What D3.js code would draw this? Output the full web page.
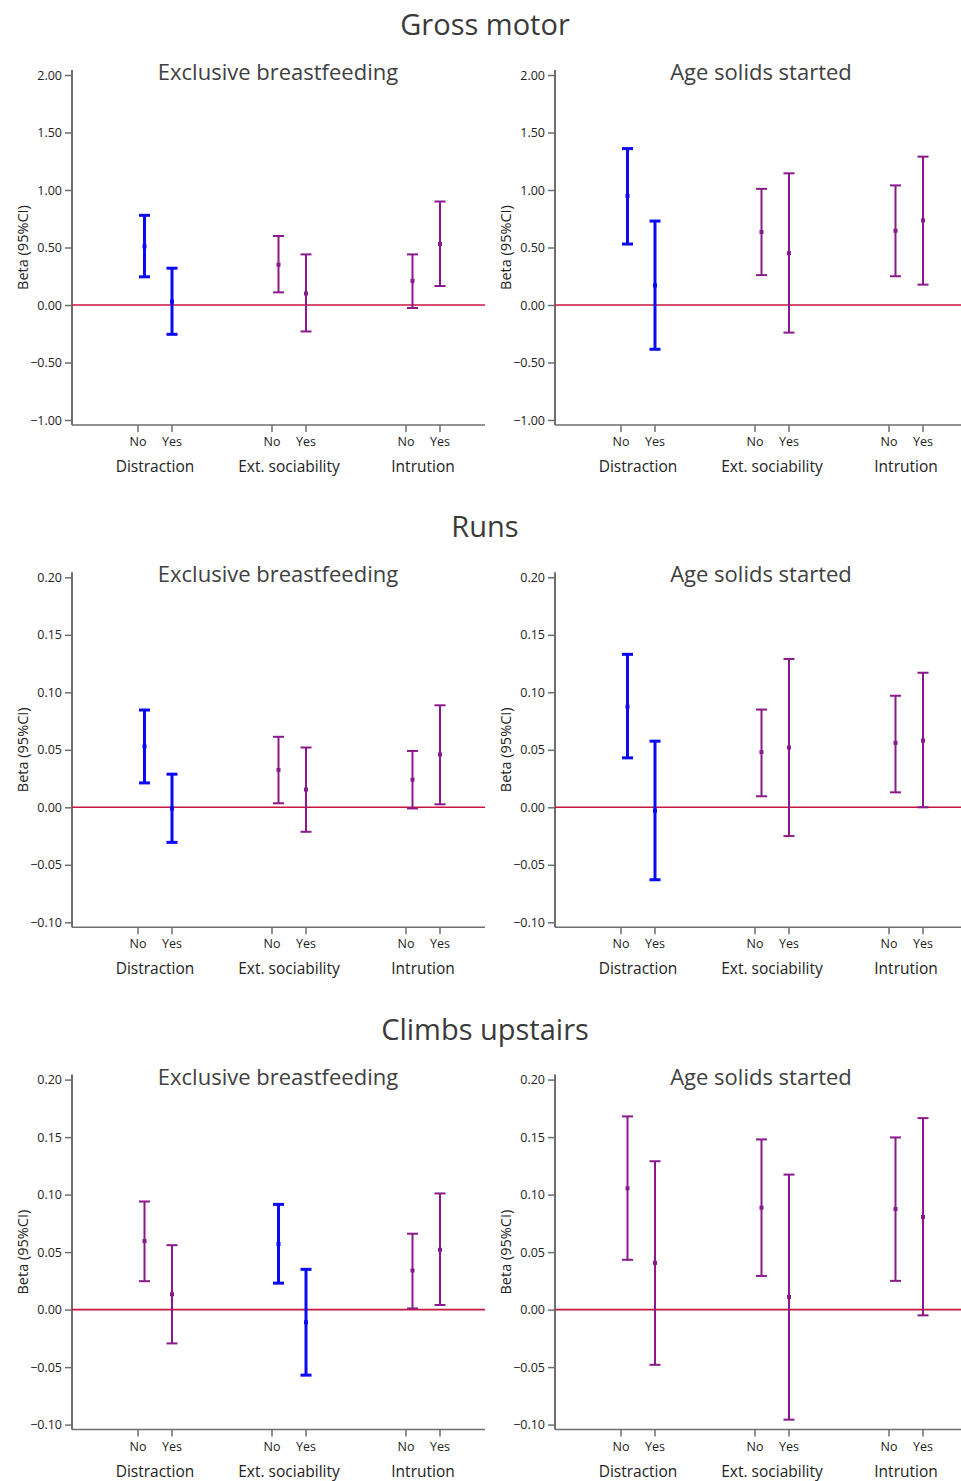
<!DOCTYPE html>
<html><head><meta charset="utf-8">
<script src="https://cdn.jsdelivr.net/npm/d3@7"></script>
<style>
html,body{margin:0;padding:0;background:#fff;}
svg{display:block;font-family:"Open Sans",sans-serif;}
</style></head>
<body><svg id="c" width="961" height="1481"></svg>
<script>
// ---- data ----
const outcomes = ["Gross motor", "Runs", "Climbs upstairs"];
const exposures = ["Exclusive breastfeeding", "Age solids started"];
const moderators = ["Distraction", "Ext. sociability", "Intrution"];
const levels = ["No", "Yes"];
const yTicksGross = [-1.00, -0.50, 0.00, 0.50, 1.00, 1.50, 2.00];
const yTicksSmall = [-0.10, -0.05, 0.00, 0.05, 0.10, 0.15, 0.20];
// order of points: Distraction No/Yes, Ext. sociability No/Yes, Intrution No/Yes
const grossEbfMean  = [0.51, 0.03, 0.35, 0.10, 0.21, 0.53];
const grossEbfLow   = [0.245, -0.255, 0.11, -0.23, -0.026, 0.165];
const grossEbfHigh  = [0.78, 0.32, 0.60, 0.44, 0.44, 0.90];
const grossEbfSig   = [true, true, false, false, false, false];
const grossSolMean  = [0.95, 0.17, 0.635, 0.45, 0.646, 0.736];
const grossSolLow   = [0.53, -0.385, 0.26, -0.24, 0.25, 0.177];
const grossSolHigh  = [1.36, 0.73, 1.01, 1.145, 1.04, 1.29];
const grossSolSig   = [true, true, false, false, false, false];
const runsEbfMean   = [0.053, -0.001, 0.0325, 0.0154, 0.024, 0.046];
const runsEbfLow    = [0.0212, -0.0305, 0.0035, -0.0213, -0.001, 0.0026];
const runsEbfHigh   = [0.0846, 0.0288, 0.0613, 0.052, 0.049, 0.0887];
const runsEbfSig    = [true, true, false, false, false, false];
const runsSolMean   = [0.0875, -0.003, 0.048, 0.052, 0.056, 0.058];
const runsSolLow    = [0.043, -0.063, 0.0096, -0.025, 0.013, 0.000];
const runsSolHigh   = [0.133, 0.0575, 0.085, 0.129, 0.097, 0.117];
const runsSolSig    = [true, true, false, false, false, false];
const climbEbfMean  = [0.0596, 0.0133, 0.057, -0.011, 0.034, 0.052];
const climbEbfLow   = [0.0247, -0.0294, 0.023, -0.057, 0.001, 0.004];
const climbEbfHigh  = [0.094, 0.056, 0.0915, 0.035, 0.066, 0.101];
const climbEbfSig   = [false, false, true, true, false, false];
const climbSolMean  = [0.1055, 0.0406, 0.0886, 0.011, 0.0875, 0.0806];
const climbSolLow   = [0.0433, -0.048, 0.0293, -0.0957, 0.025, -0.005];
const climbSolHigh  = [0.168, 0.129, 0.148, 0.1174, 0.1497, 0.1665];
const climbSolSig   = [false, false, false, false, false, false];

const panels = [
  [{m:grossEbfMean,l:grossEbfLow,h:grossEbfHigh,s:grossEbfSig},{m:grossSolMean,l:grossSolLow,h:grossSolHigh,s:grossSolSig}],
  [{m:runsEbfMean,l:runsEbfLow,h:runsEbfHigh,s:runsEbfSig},{m:runsSolMean,l:runsSolLow,h:runsSolHigh,s:runsSolSig}],
  [{m:climbEbfMean,l:climbEbfLow,h:climbEbfHigh,s:climbEbfSig},{m:climbSolMean,l:climbSolLow,h:climbSolHigh,s:climbSolSig}]
];
const rowTicks = [yTicksGross, yTicksSmall, yTicksSmall];

// ---- style / layout ----
const BLUE = "#0a0af5", PURPLE = "#8a1a8c", RED = "#c8163f", AXIS = "#6e6e6e", TXT = "#222";
const rowH = 502.3;
const colX = [72, 555];
const colRight = [485, 961];
const noShift = 6.5;

const svg = d3.select("#c");

outcomes.forEach((oc, r) => {
  const top = 75 + r * rowH;
  const bottom = top + 345;
  svg.append("text").attr("x", 485).attr("y", 35 + r * rowH)
    .attr("text-anchor", "middle").attr("font-size", 29).attr("fill", "#3a3a3a").text(oc);
  const ticks = rowTicks[r];
  const y = d3.scaleLinear().domain([ticks[0], ticks[ticks.length - 1]]).range([bottom, top]);

  exposures.forEach((ex, c) => {
    const x0 = colX[c];
    const g = svg.append("g");
    const d = panels[r][c];
    const xGroup = d3.scaleBand().domain(moderators).range([x0 + 16, x0 + 16 + 3 * 134]);
    const xLevel = d3.scalePoint().domain(levels).range([-17, 17]);
    const xPos = (mod, lev) => xGroup(mod) + xGroup.bandwidth() / 2 + xLevel(lev);

    // panel title
    g.append("text").attr("x", x0 + 206).attr("y", top + 5)
      .attr("text-anchor", "middle").attr("font-size", 22).attr("fill", "#404040").text(ex);

    // y axis
    const yAx = g.append("g").attr("transform", `translate(${x0},0)`)
      .call(d3.axisLeft(y).tickValues(ticks).tickSize(7).tickPadding(3)
        .tickFormat(v => d3.format(".2f")(v).replace("-", "\u2212")));
    yAx.attr("font-size", null).attr("font-family", null);
    yAx.select(".domain").remove();
    yAx.selectAll(".tick line").attr("stroke", AXIS).attr("stroke-width", 1.5);
    yAx.selectAll(".tick text").style("font-size", "12.5px").attr("fill", TXT);
    g.append("line").attr("x1", x0).attr("x2", x0).attr("y1", top - 5).attr("y2", bottom + 5)
      .attr("stroke", AXIS).attr("stroke-width", 2);

    // x axis
    g.append("line").attr("x1", x0).attr("x2", colRight[c]).attr("y1", bottom + 5).attr("y2", bottom + 5)
      .attr("stroke", AXIS).attr("stroke-width", 1.5);
    moderators.forEach(mod => {
      levels.forEach(lev => {
        const xp = xPos(mod, lev);
        g.append("line").attr("x1", xp).attr("x2", xp).attr("y1", bottom + 5).attr("y2", bottom + 12)
          .attr("stroke", AXIS).attr("stroke-width", 1.5);
        g.append("text").attr("x", xp).attr("y", bottom + 26).attr("text-anchor", "middle")
          .attr("font-size", 12.5).attr("fill", TXT).text(lev);
      });
      g.append("text").attr("x", xGroup(mod) + xGroup.bandwidth() / 2).attr("y", bottom + 52)
        .attr("text-anchor", "middle").attr("font-size", 15.5).attr("fill", TXT).text(mod);
    });

    // y label
    g.append("text").attr("transform", `translate(${x0 - 44},${(top + bottom) / 2}) rotate(-90)`)
      .attr("text-anchor", "middle").attr("font-size", 14.5).attr("fill", TXT).text("Beta (95%CI)");

    // zero line
    g.append("line").attr("x1", x0).attr("x2", colRight[c]).attr("y1", y(0)).attr("y2", y(0))
      .attr("stroke", RED).attr("stroke-width", 1.6);

    // error bars
    const pts = [];
    moderators.forEach((mod, i) => levels.forEach((lev, j) => {
      const k = i * 2 + j;
      pts.push({x: xPos(mod, lev) + (lev === "No" ? noShift : 0), m: d.m[k], l: d.l[k], h: d.h[k], s: d.s[k]});
    }));
    const eb = g.selectAll(".eb").data(pts).enter().append("g");
    eb.append("line").attr("x1", p => p.x).attr("x2", p => p.x)
      .attr("y1", p => y(p.l)).attr("y2", p => y(p.h))
      .attr("stroke", p => p.s ? BLUE : PURPLE).attr("stroke-width", p => p.s ? 3 : 2);
    [ "l", "h" ].forEach(key => {
      eb.append("line").attr("x1", p => p.x - 5.5).attr("x2", p => p.x + 5.5)
        .attr("y1", p => y(p[key])).attr("y2", p => y(p[key]))
        .attr("stroke", p => p.s ? BLUE : PURPLE).attr("stroke-width", p => p.s ? 3 : 2);
    });
    eb.append("rect").attr("x", p => p.x - 2).attr("y", p => y(p.m) - 2)
      .attr("width", 4).attr("height", 4).attr("fill", p => p.s ? BLUE : PURPLE);
  });
});
</script></body></html>
